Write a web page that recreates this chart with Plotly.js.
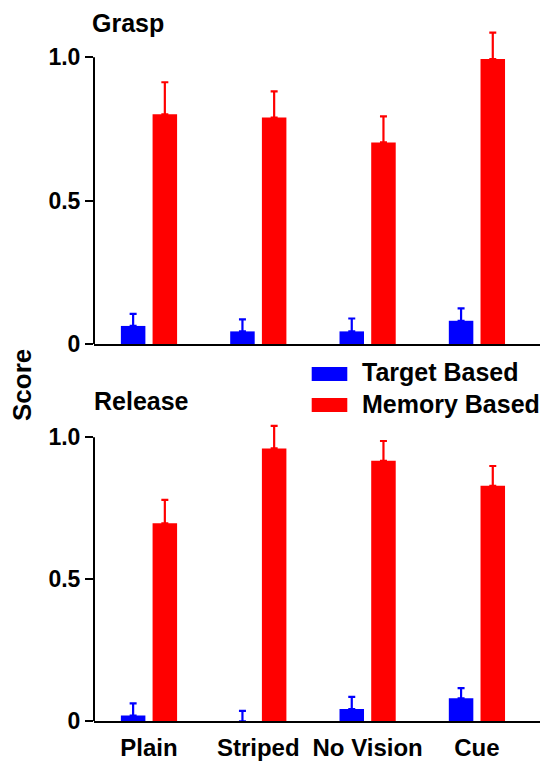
<!DOCTYPE html>
<html>
<head>
<meta charset="utf-8">
<script src="https://cdn.plot.ly/plotly-3.0.1.min.js"></script>
<style>html,body{margin:0;padding:0;background:#fff;}#chart{width:542px;height:763px;}</style>
</head>
<body>
<div id="chart"></div>
<script>
// ---- data ----
const categories = ['Plain', 'Striped', 'No Vision', 'Cue'];
const seriesNames = ['Target Based', 'Memory Based'];
const panelTitles = ['Grasp', 'Release'];
const yTickVals = [0, 0.5, 1.0];
const yTickText = ['0', '0.5', '1.0'];
const yAxisTitle = 'Score';

const graspTarget = [0.063, 0.044, 0.044, 0.081];
const graspTargetErr = [0.042, 0.042, 0.045, 0.043];
const graspMemory = [0.801, 0.790, 0.703, 0.994];
const graspMemoryErr = [0.112, 0.091, 0.091, 0.092];

const releaseTarget = [0.020, 0.000, 0.043, 0.081];
const releaseTargetErr = [0.043, 0.037, 0.043, 0.036];
const releaseMemory = [0.697, 0.961, 0.917, 0.829];
const releaseMemoryErr = [0.083, 0.079, 0.070, 0.070];

// ---- styling ----
const FONT = 'Liberation Sans, Arial, Helvetica, sans-serif';
const BLUE = '#0000ff';
const RED = '#ff0000';

function barTrace(y, err, color, name, xa, ya) {
  return {
    type: 'bar', x: categories, y: y, name: name,
    xaxis: xa, yaxis: ya,
    marker: {color: color, line: {width: 0}},
    cliponaxis: false,
    showlegend: false,
    error_y: {type: 'data', symmetric: false, array: err,
      arrayminus: err.map(() => 0), color: color, thickness: 2.2, width: 3.5}
  };
}

const data = [
  barTrace(graspTarget, graspTargetErr, BLUE, seriesNames[0], 'x', 'y'),
  barTrace(graspMemory, graspMemoryErr, RED, seriesNames[1], 'x', 'y'),
  barTrace(releaseTarget, releaseTargetErr, BLUE, seriesNames[0], 'x2', 'y2'),
  barTrace(releaseMemory, releaseMemoryErr, RED, seriesNames[1], 'x2', 'y2')
];

const H = 763, L = 94, W = 446;
const px = x => (x - L) / W;
const py = y => 1 - y / H;
const YMAX = 1.1;

const xBase = {
  type: 'category', range: [-0.503, 3.577], showline: true, linecolor: '#000',
  linewidth: 2, ticks: '', showgrid: false, zeroline: false, ticklabelstandoff: 4,
  tickfont: {family: FONT, size: 24, color: '#000', weight: 'bold'}, fixedrange: true
};
const yBase = {
  range: [0, YMAX], showline: false,
  ticks: 'outside', ticklen: 8, tickwidth: 2, tickcolor: '#000',
  tickvals: yTickVals, ticktext: yTickText, showgrid: false, zeroline: false,
  tickfont: {family: FONT, size: 23, color: '#000', weight: 'bold'}, fixedrange: true
};

// pixel positions of 0 and 1.0 in each panel -> domain extended to YMAX
const top0 = 344, top1 = 57.3, bot0 = 721.3, bot1 = 437.3;
const topMax = top0 - (top0 - top1) * YMAX;
const botMax = bot0 - (bot0 - bot1) * YMAX;

const labelFont = {family: FONT, size: 25, color: '#000', weight: 'bold'};

const layout = {
  width: 542, height: 763,
  margin: {l: L, r: 542 - L - W, t: 0, b: 0},
  paper_bgcolor: '#fff', plot_bgcolor: '#fff',
  barmode: 'group', bargap: 0.42, bargroupgap: 0.227,
  showlegend: false,
  xaxis: Object.assign({}, xBase, {anchor: 'y', showticklabels: false}),
  yaxis: Object.assign({}, yBase, {domain: [py(top0), py(topMax)], anchor: 'x'}),
  xaxis2: Object.assign({}, xBase, {anchor: 'y2', showticklabels: true}),
  yaxis2: Object.assign({}, yBase, {domain: [py(bot0), py(botMax)], anchor: 'x2'}),
  shapes: [
    {type: 'line', xref: 'x domain', yref: 'y', x0: 0, x1: 0, y0: 0, y1: 1,
     line: {color: '#000', width: 2}},
    {type: 'line', xref: 'x2 domain', yref: 'y2', x0: 0, x1: 0, y0: 0, y1: 1,
     line: {color: '#000', width: 2}},
    {type: 'rect', xref: 'paper', yref: 'paper', x0: px(311.7), x1: px(347.3),
     y0: py(381), y1: py(367), fillcolor: BLUE, line: {width: 0}},
    {type: 'rect', xref: 'paper', yref: 'paper', x0: px(311.7), x1: px(347.3),
     y0: py(412), y1: py(398), fillcolor: RED, line: {width: 0}}
  ],
  annotations: [
    {text: seriesNames[0], xref: 'paper', yref: 'paper', x: px(360), y: py(372),
     xanchor: 'left', yanchor: 'middle', showarrow: false, font: labelFont},
    {text: seriesNames[1], xref: 'paper', yref: 'paper', x: px(360), y: py(404),
     xanchor: 'left', yanchor: 'middle', showarrow: false, font: labelFont},
    {text: panelTitles[0], xref: 'paper', yref: 'paper', x: px(90), y: py(23),
     xanchor: 'left', yanchor: 'middle', showarrow: false, font: labelFont},
    {text: panelTitles[1], xref: 'paper', yref: 'paper', x: px(92), y: py(401),
     xanchor: 'left', yanchor: 'middle', showarrow: false, font: labelFont},
    {text: yAxisTitle, xref: 'paper', yref: 'paper', x: px(22), y: py(385),
     xanchor: 'center', yanchor: 'middle', textangle: -90, showarrow: false,
     font: {family: FONT, size: 26, color: '#000', weight: 'bold'}}
  ]
};

Plotly.newPlot('chart', data, layout, {displayModeBar: false, staticPlot: true});
</script>
</body>
</html>
